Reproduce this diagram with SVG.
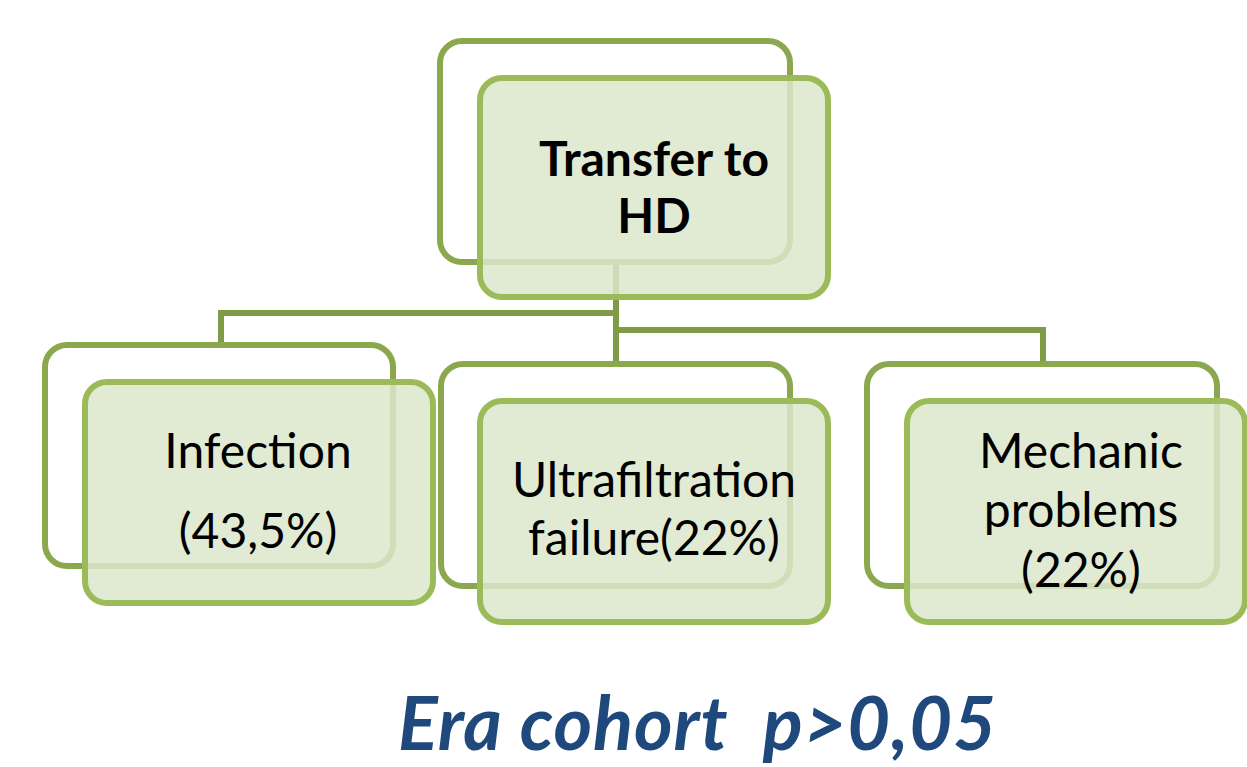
<svg xmlns="http://www.w3.org/2000/svg" width="1247" height="767" viewBox="0 0 1247 767">
  <style>
    .back { fill: #ffffff; stroke: #8ba84f; stroke-width: 6; }
    .front { fill: #dce6cb; fill-opacity: 0.85; stroke: #9bbb59; stroke-width: 6; }
    .conn { fill: none; stroke: #7f9b47; stroke-width: 6; }
    .lbl { font-family: Lato, "Open Sans", sans-serif; font-size: 48px; fill: #000000; text-anchor: middle; }
    .title { font-weight: bold; }
    .foot { font-family: Lato, "Open Sans", sans-serif; font-size: 74px; font-weight: bold; font-style: italic; fill: #1f497d; }
  </style>

  <!-- connectors -->
  <g id="connectors">
    <polyline class="conn" points="616,262 616,313 221,313 221,345"/>
    <polyline class="conn" points="616,313 616,362"/>
    <polyline class="conn" points="616,330 1043,330 1043,364"/>
  </g>

  <!-- root node -->
  <g id="node-transfer">
    <rect class="back" x="440" y="41" width="350" height="221" rx="22"/>
    <rect class="front" x="480" y="78" width="348" height="219" rx="22"/>
    <text class="lbl title" x="654" y="176">Transfer to</text>
    <text class="lbl title" x="654" y="233">HD</text>
  </g>

  <g id="node-infection">
    <rect class="back" x="45" y="345" width="348" height="221" rx="22"/>
    <rect class="front" x="85" y="382" width="348" height="221" rx="22"/>
    <text class="lbl" x="258" y="468">Infection</text>
    <text class="lbl" x="258" y="548">(43,5%)</text>
  </g>

  <g id="node-ultrafiltration">
    <rect class="back" x="441" y="364" width="349" height="222" rx="22"/>
    <rect class="front" x="480" y="401" width="348" height="221" rx="22"/>
    <text class="lbl" x="654" y="497">Ultrafiltration</text>
    <text class="lbl" x="654" y="555">failure(22%)</text>
  </g>

  <g id="node-mechanic">
    <rect class="back" x="867" y="364" width="350" height="222" rx="22"/>
    <rect class="front" x="907" y="401" width="338" height="221" rx="22"/>
    <text class="lbl" x="1081" y="468">Mechanic</text>
    <text class="lbl" x="1081" y="527">problems</text>
    <text class="lbl" x="1081" y="587">(22%)</text>
  </g>

  <text class="foot" x="398" y="750" textLength="598" lengthAdjust="spacing" xml:space="preserve">Era cohort  p&gt;0,05</text>
</svg>
